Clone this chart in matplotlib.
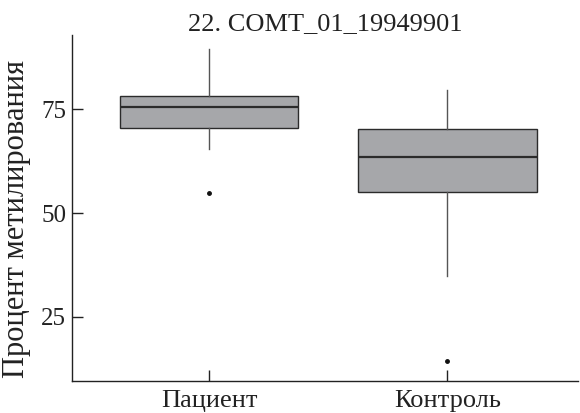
import matplotlib
matplotlib.use("Agg")
import matplotlib.pyplot as plt

plt.rcParams["font.family"] = ["Liberation Serif", "DejaVu Serif"]

# ── Box statistics per group ─────────────────────────────────────────────────
GROUPS   = ["Пациент", "Контроль"]
WHISLO   = [65.4, 34.9]
Q1       = [70.5, 55.1]
MEDIAN   = [75.5, 63.5]
Q3       = [78.2, 70.1]
WHISHI   = [89.4, 79.6]
OUTLIERS = [[54.9], [14.3]]

BOX_FC   = "#a6a7aa"
EDGE     = "#2b2b2b"
WHISK    = "#555555"

stats = [dict(label=g, whislo=lo, q1=a, med=m, q3=b, whishi=hi, fliers=f)
         for g, lo, a, m, b, hi, f in zip(GROUPS, WHISLO, Q1, MEDIAN, Q3,
                                          WHISHI, OUTLIERS)]

fig = plt.figure(figsize=(5.8, 4.13), dpi=100)
ax = fig.add_axes([0.124, 0.0775, 0.873, 0.8375])

ax.bxp(stats, positions=[0, 1], widths=0.75, patch_artist=True,
       showcaps=False,
       boxprops=dict(facecolor=BOX_FC, edgecolor=EDGE, lw=1.0),
       medianprops=dict(color=EDGE, lw=1.6),
       whiskerprops=dict(color=WHISK, lw=1.0),
       flierprops=dict(marker="o", markersize=2.5, markerfacecolor="#111111",
                       markeredgecolor="#111111"))

ax.set_xlim(-0.576, 1.55)
ax.set_ylim(9.6, 92.8)
ax.set_yticks([25, 50, 75])
ax.set_xticks([0, 1])
ax.set_xticklabels(GROUPS)
ax.tick_params(direction="in", length=8, width=1.0, labelsize=18,
               colors="#222222", pad=4)
ax.tick_params(axis="x", labelsize=19, pad=6.5)

for side in ("top", "right"):
    ax.spines[side].set_visible(False)
for side in ("left", "bottom"):
    ax.spines[side].set_linewidth(1.0)
    ax.spines[side].set_color("#222222")

ax.set_ylabel("Процент метилирования", fontsize=22, color="#222222")
ax.yaxis.set_label_coords(-0.08, 0.468)
ax.set_title("22. COMT_01_19949901", fontsize=19, color="#222222", pad=3)

fig.savefig("out.png", dpi=100)
